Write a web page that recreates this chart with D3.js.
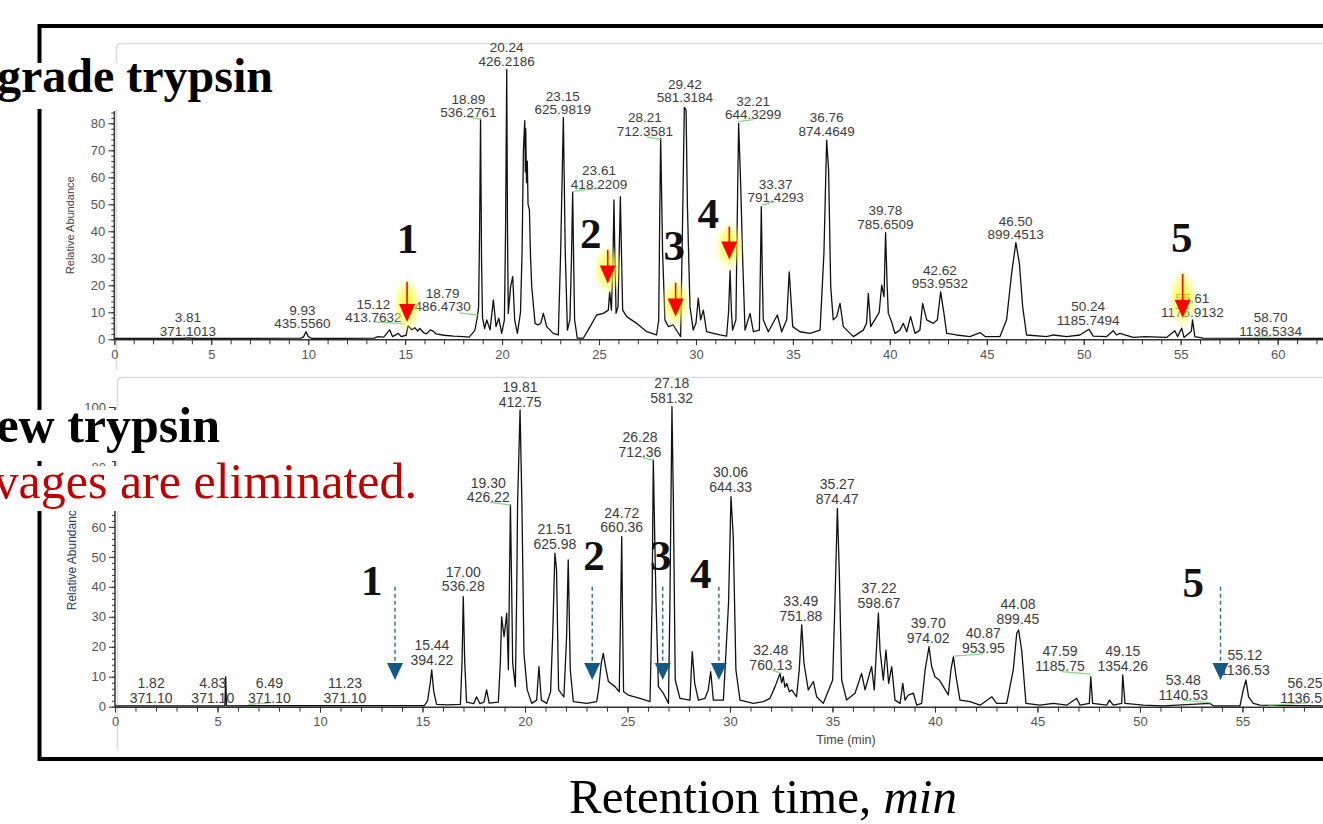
<!DOCTYPE html>
<html lang="en">
<head>
  <meta charset="UTF-8">
  <title>Trypsin digest chromatograms</title>
  <script src="https://d3js.org/d3.v7.min.js"></script>
  <style>
    body { margin: 0; padding: 0; background: #fff; }
    svg { display: block; }
    .tick text { font-family: "Liberation Sans", Arial, sans-serif; font-size: 13px; fill: #555; }
    .tick line, .domain { stroke: #333; }
  </style>
</head>
<body>
<script>
// ---- data: [retention time (min), relative abundance] ----
const topTrace = [[0,0.3],[3.5,0.3],[3.8,0.5],[4.2,0.3],[9.6,0.4],[9.75,0.8],[9.89,2.8],[10.0,1.0],[10.2,0.3],[13.4,0.4],[13.6,1.0],[13.9,0.8],[14.2,3.5],[14.35,1.0],[14.65,2.2],[14.8,1.0],[15.05,1.5],[15.15,5.0],[15.35,3.5],[15.5,4.3],[15.65,3.0],[15.75,4.0],[15.95,2.5],[16.1,2.0],[16.3,3.5],[16.45,3.0],[16.6,2.0],[17.0,1.5],[17.5,1.2],[18.0,1.0],[18.3,0.8],[18.5,2.5],[18.6,3.4],[18.72,8],[18.79,12],[18.84,40],[18.89,81.5],[18.94,30],[18.99,8],[19.1,4],[19.21,7.2],[19.38,3.5],[19.55,14.6],[19.69,4.7],[19.83,7.8],[19.98,2.2],[20.12,7.2],[20.18,40],[20.24,100],[20.28,40],[20.32,9.6],[20.44,19.5],[20.55,23.2],[20.65,7.2],[20.79,2.2],[20.95,10],[21.03,31.8],[21.1,70],[21.17,81],[21.2,62],[21.22,78],[21.26,58],[21.3,66],[21.34,50],[21.41,47.9],[21.47,30],[21.53,19.5],[21.7,5.9],[21.87,5.3],[22.0,6],[22.13,9.6],[22.3,4.7],[22.64,2.2],[22.9,1.6],[23.02,31.8],[23.16,82.2],[23.26,31.8],[23.37,3.4],[23.5,7.2],[23.58,30],[23.64,54.7],[23.69,30],[23.74,7.2],[23.88,0.4],[24.19,0.4],[24.54,4.7],[24.88,9.0],[25.22,9.6],[25.48,10.8],[25.55,17.6],[25.64,10.8],[25.72,30],[25.77,51.6],[25.82,30],[25.88,9.6],[25.98,12.1],[26.05,35],[26.1,52.8],[26.15,35],[26.22,10.8],[26.43,8.4],[26.94,5.9],[27.46,2.8],[27.97,1.6],[28.08,7.2],[28.13,45],[28.18,74.4],[28.28,31.8],[28.4,7.2],[28.58,4.7],[28.83,5.3],[29.04,2.8],[29.21,1.0],[29.31,44.2],[29.4,85.9],[29.49,84.9],[29.56,49.1],[29.69,12.1],[29.86,3.4],[30.0,6],[30.12,15.2],[30.24,7.2],[30.38,10.8],[30.55,2.8],[30.9,2.2],[31.24,1.6],[31.58,1.2],[31.68,10],[31.76,25.4],[31.83,10],[31.89,3.4],[32.06,7.2],[32.13,45],[32.2,80],[32.31,56.5],[32.41,29.4],[32.53,3.4],[32.79,9.6],[32.96,2.8],[33.27,3.4],[33.32,25],[33.37,49.1],[33.42,25],[33.47,7.2],[33.73,2.8],[34.2,9.0],[34.42,2.8],[34.68,7.2],[34.81,25.0],[34.99,4.7],[35.36,2.8],[35.88,2.2],[36.4,3.4],[36.6,31.8],[36.74,73.8],[36.84,62.7],[36.95,19.5],[37.08,7.2],[37.26,8.4],[37.43,13.3],[37.6,4.7],[38.12,1.0],[38.63,3.4],[38.8,6],[38.89,17.0],[39.01,4.7],[39.32,8.4],[39.45,10],[39.58,20.1],[39.7,15.8],[39.78,39.5],[39.86,20],[39.92,9.6],[40.09,6.5],[40.26,2.2],[40.52,3.4],[40.69,5.9],[40.87,2.8],[41.07,8.4],[41.3,2.2],[41.55,3.4],[41.69,13.3],[41.9,7.2],[42.24,5.9],[42.45,7.2],[42.62,17.6],[42.79,9.6],[42.93,2.2],[43.44,1.6],[44.13,1.0],[44.65,2.5],[44.91,1.0],[45.68,1.0],[46.02,7.2],[46.28,24.4],[46.5,35.8],[46.68,28.1],[46.85,12.1],[47.05,1.6],[48.09,1.0],[48.43,1.6],[49.12,1.0],[49.8,1.6],[50.27,3.7],[50.49,1.2],[51.18,1.0],[51.52,3.2],[51.69,1.6],[51.87,2.2],[52.12,1.6],[52.55,0.7],[53.16,1.0],[54.27,0.7],[54.7,3.2],[54.84,1.0],[55.05,4.1],[55.17,0.7],[55.55,3],[55.61,7.2],[55.73,1.0],[56.16,0.4],[62.4,0.3]];

const bottomTrace = [[0,0.3],[5.36,0.3],[5.4,10],[5.44,0.3],[15.1,0.4],[15.25,2],[15.38,8],[15.45,12.3],[15.55,5],[15.69,0.8],[16.2,0.6],[16.85,0.8],[16.93,15],[16.99,36.7],[17.06,15],[17.15,1.5],[17.5,1.0],[17.64,3.3],[17.8,1.0],[18.0,1.5],[18.13,5.6],[18.25,1.2],[18.7,1.5],[18.8,15],[18.86,30.0],[18.98,23.4],[19.11,31.2],[19.19,12.3],[19.24,40],[19.29,67.3],[19.35,40],[19.4,14.5],[19.53,6.7],[19.6,40],[19.64,67.9],[19.76,99],[19.85,67.9],[19.95,17.8],[20.11,5.6],[20.33,1.1],[20.57,2.2],[20.68,13.4],[20.8,2.2],[21.06,1.1],[21.25,5],[21.35,23.4],[21.46,51.2],[21.54,45.6],[21.64,5.6],[21.9,3.3],[22.03,23.4],[22.11,49.0],[22.21,12.3],[22.36,1.7],[23.01,1.1],[23.5,1.7],[23.59,5.6],[23.72,14.5],[23.82,17.8],[23.93,13.4],[24.07,8.4],[24.39,6.7],[24.6,5.0],[24.66,30],[24.72,56.7],[24.76,30],[24.81,5.0],[25.04,3.9],[25.61,2.8],[26.1,1.7],[26.2,34.5],[26.26,82.3],[26.33,56.7],[26.39,35.6],[26.51,6.7],[26.75,4.5],[27.0,1.1],[27.07,34.5],[27.17,100.1],[27.24,67.9],[27.33,8.9],[27.56,2.8],[28.05,2.2],[28.1,10],[28.16,18.4],[28.28,7.8],[28.46,2.2],[28.78,2.8],[28.94,5.6],[29.06,11.7],[29.19,2.2],[29.68,2.2],[29.93,34.5],[30.05,70.1],[30.16,56.7],[30.29,12.3],[30.49,2.2],[31.14,1.1],[31.63,1.7],[31.95,2.8],[32.2,6.7],[32.44,11.1],[32.52,8],[32.6,10.0],[32.68,6.5],[32.77,7.8],[32.9,5],[33.01,5.6],[33.25,3.3],[33.38,12.3],[33.5,27.3],[33.61,14.5],[33.82,5.6],[34.07,8.4],[34.23,3.3],[34.55,1.1],[35.01,8.9],[35.12,34.5],[35.24,66.2],[35.33,45.6],[35.45,8.9],[35.69,2.2],[36.1,4.5],[36.42,11.1],[36.59,5.6],[36.91,13.4],[37.04,5.6],[37.24,31.2],[37.32,18.9],[37.48,8.9],[37.61,18.9],[37.74,7.8],[37.89,13.4],[38.05,2.2],[38.3,1.1],[38.43,7.8],[38.54,2.2],[38.7,3.9],[38.95,4.5],[39.11,0.5],[39.35,1.1],[39.52,12.3],[39.71,20.0],[39.84,13.4],[40.0,10.0],[40.21,8.9],[40.41,6.7],[40.65,3.9],[40.78,12.3],[40.9,16.7],[41.03,10.0],[41.22,2.2],[41.71,1.7],[42.2,0.5],[42.78,3.3],[43.01,1.1],[43.5,1.1],[43.82,12.3],[43.99,24.5],[44.08,25.6],[44.23,18.9],[44.44,1.1],[45.12,0.5],[45.78,1.1],[46.43,0.5],[46.91,2.8],[47.08,0.5],[47.53,1.1],[47.6,10.0],[47.69,1.1],[48.38,0.5],[48.51,2.2],[48.7,0.5],[49.11,1.1],[49.16,10.6],[49.27,1.1],[50.17,0.5],[51.14,0.3],[53.42,1.1],[53.58,0.3],[54.88,0.3],[55.04,5.6],[55.17,8.9],[55.3,3.3],[55.53,1.1],[55.86,0.5],[59,0.3]];

// peak annotations: [RT text, m/z text, label time, label height]
const topPeakLabels = [
  ["3.81","371.1013",3.79,6.3],["9.93","435.5560",9.70,9.1],["15.12","413.7632",13.36,11.2],
  ["18.79","486.4730",16.93,15.3],["18.89","536.2761",18.26,87.3],["20.24","426.2186",20.24,106.3],
  ["23.15","625.9819",23.13,88.4],["23.61","418.2209",25.0,60.7],["28.21","712.3581",27.37,80.3],
  ["29.42","581.3184",29.43,92.7],["32.21","644.3299",32.95,86.5],["33.37","791.4293",34.11,55.8],
  ["36.76","874.4649",36.74,80.3],["39.78","785.6509",39.77,45.9],["42.62","953.9532",42.58,23.9],
  ["46.50","899.4513",46.49,42.1],["50.24","1185.7494",50.23,10.3],["55.61","1175.9132",55.60,13.4],
  ["58.70","1136.5334",59.64,6.3]
];
const bottomPeakLabels = [
  ["1.82","371.10",1.76,6.3],["4.83","371.10",4.77,6.3],["6.49","371.10",7.53,6.3],
  ["11.23","371.10",11.22,6.3],["15.44","394.22",15.46,18.9],["17.00","536.28",16.99,43.4],
  ["19.30","426.22",18.21,73.1],["19.81","412.75",19.76,104.9],["21.51","625.98",21.46,57.5],
  ["24.72","660.36",24.72,63.1],["26.28","712.36",25.61,88.2],["27.18","581.32",27.16,106.2],
  ["30.06","644.33",30.03,76.7],["32.48","760.13",31.99,17.3],["33.49","751.88",33.46,33.6],
  ["35.27","874.47",35.23,72.5],["37.22","598.67",37.27,37.8],["39.70","974.02",39.67,26.2],
  ["40.87","953.95",42.36,22.8],["44.08","899.45",44.05,32.5],["47.59","1185.75",46.10,16.9],
  ["49.15","1354.26",49.16,16.9],["53.48","1140.53",52.11,7.2],["55.12","1136.53",55.12,15.6],
  ["56.25","1136.53",58.05,6.3]
];

// green leader lines from a label to its peak: [t1, v1, t2, v2]
const topLeaders = [[13.36,6.5,15.0,5.7],[17.8,9.8,18.75,9.0],[18.24,82.3,18.9,81.5],[23.59,54.7,24.96,55.9],
  [27.46,75,28.18,74],[32.18,80.6,32.96,81.4],[33.39,49.7,34.07,51],[58.83,1.2,59.64,1.2]];
const bottomLeaders = [[6.5,0.8,7.53,1.3],[18.29,68.2,19.30,67.3],[25.69,83.2,26.26,82.3],[32.03,12.3,32.52,11.1],
  [40.89,16.9,42.36,17.6],[46.18,11.7,47.6,10.9],[52.11,2.2,53.5,1.3],[56.26,0.5,58.13,1.3]];

// missed-cleavage markers: [number, arrow time, arrow top, arrow tip, number time, number baseline]
const topMarks = [["1",15.10,21.2,6.4,15.12,32.0],["2",25.45,33.1,20.7,24.57,33.7],["3",28.95,20.9,8.4,28.88,29.4],
  ["4",31.72,41.7,29.6,30.63,41.3],["5",55.10,24.2,8.0,55.05,32.4]];
const bottomMarks = [["1",13.66,40.0,8.9,12.52,37.3],["2",23.28,40.0,8.9,23.37,45.6],["3",26.72,40.0,8.9,26.62,45.6],
  ["4",29.46,40.0,8.9,28.57,39.5],["5",53.93,40.0,8.9,52.6,36.7]];

const xMajor = [0,5,10,15,20,25,30,35,40,45,50,55,60];
const xMinor = d3.range(0, 63, 1);
const topYMajor = [0,10,20,30,40,50,60,70,80];
const bottomYMajor = [0,10,20,30,40,50,60,70,80,90,100];
const yMinor = d3.range(0, 101, 2);

const W = 1323, H = 824;
const sans = "'Liberation Sans', Arial, sans-serif";
const serif = "'Liberation Serif', 'Times New Roman', serif";

const svg = d3.select("body").append("svg").attr("width", W).attr("height", H);
svg.append("rect").attr("width", W).attr("height", H).attr("fill", "#fff");

const defs = svg.append("defs");
const glow = defs.append("radialGradient").attr("id", "glow");
glow.append("stop").attr("offset", "0%").attr("stop-color", "#ffff00").attr("stop-opacity", 0.9);
glow.append("stop").attr("offset", "55%").attr("stop-color", "#ffff30").attr("stop-opacity", 0.55);
glow.append("stop").attr("offset", "100%").attr("stop-color", "#ffff80").attr("stop-opacity", 0);

// panel frames (light grey, only top/left visible)
svg.append("path").attr("d", "M116.5,370 V48 Q116.5,43.5 121,43.5 H1323")
  .attr("fill", "none").attr("stroke", "#dcdcdc").attr("stroke-width", 1.5);
svg.append("path").attr("d", "M117.5,750 V382 Q117.5,377.5 122,377.5 H1323")
  .attr("fill", "none").attr("stroke", "#dcdcdc").attr("stroke-width", 1.5);

function drawPanel(cfg) {
  const g = svg.append("g");
  const x = d3.scaleLinear().domain(cfg.xDomain).range([cfg.x0, W]);
  const y = d3.scaleLinear().domain([0, 100]).range([cfg.y0, cfg.y100]);

  // x axis: minor then major ticks
  g.append("g").attr("transform", `translate(0,${cfg.y0})`)
    .call(d3.axisBottom(x).tickValues(xMinor.filter(v => v <= cfg.xDomain[1])).tickSize(5).tickFormat(""))
    .call(a => a.select(".domain").remove());
  g.append("g").attr("transform", `translate(0,${cfg.y0})`)
    .call(d3.axisBottom(x).tickValues(xMajor.filter(v => v <= cfg.xDomain[1])).tickSize(6).tickSizeOuter(0).tickPadding(4))
    .call(a => a.select(".domain").attr("stroke-width", 1.5));

  // y axis
  g.append("g").attr("transform", `translate(${cfg.x0},0)`)
    .call(d3.axisLeft(y).tickValues(yMinor.filter(v => v <= cfg.yTop)).tickSize(3).tickFormat(""))
    .call(a => a.select(".domain").remove());
  g.append("g").attr("transform", `translate(${cfg.x0},0)`)
    .call(d3.axisLeft(y).tickValues(cfg.yMajor).tickSize(6).tickPadding(3))
    .call(a => a.select(".domain").remove());
  g.append("line").attr("x1", cfg.x0).attr("x2", cfg.x0)
    .attr("y1", y(0)).attr("y2", y(cfg.yTop)).attr("stroke", "#333").attr("stroke-width", 1.5);

  g.append("text").attr("transform", `translate(${cfg.titleX},${(y(0) + y(cfg.yTop)) / 2}) rotate(-90)`)
    .attr("text-anchor", "middle").style("font-family", sans).style("font-size", cfg.titleSize + "px")
    .attr("fill", cfg.titleColor).text("Relative Abundance");

  // chromatogram trace
  g.append("path").datum(cfg.trace)
    .attr("d", d3.line().x(d => x(d[0])).y(d => y(d[1])))
    .attr("fill", "none").attr("stroke", "#111").attr("stroke-width", 1.3).attr("stroke-linejoin", "round");

  // leader lines
  g.selectAll("line.lead").data(cfg.leaders).join("line").attr("class", "lead")
    .attr("x1", d => x(d[0])).attr("y1", d => y(d[1])).attr("x2", d => x(d[2])).attr("y2", d => y(d[3]))
    .attr("stroke", "#86d886").attr("stroke-width", 1.3);

  // peak labels
  const lab = g.selectAll("text.pk").data(cfg.labels).join("text").attr("class", "pk")
    .attr("x", d => x(d[2])).attr("y", d => y(d[3])).attr("text-anchor", "middle")
    .style("font-family", sans).style("font-size", cfg.labelSize + "px").attr("fill", "#3c3c3c");
  lab.append("tspan").text(d => d[0]);
  lab.append("tspan").attr("x", d => x(d[2])).attr("dy", cfg.labelGap).text(d => d[1]);

  // markers
  const m = g.selectAll("g.mark").data(cfg.marks).join("g").attr("class", "mark");
  if (cfg.red) {
    m.append("ellipse").attr("cx", d => x(d[1])).attr("cy", d => (y(d[2]) + y(d[3])) / 2 + 3)
      .attr("rx", 15).attr("ry", d => (y(d[3]) - y(d[2])) / 2 + 9).attr("fill", "url(#glow)");
    m.append("line").attr("x1", d => x(d[1])).attr("x2", d => x(d[1]))
      .attr("y1", d => y(d[2])).attr("y2", d => y(d[3]) - 16).attr("stroke", "#ff0000").attr("stroke-width", 1.6);
    m.append("path").attr("d", d => `M${x(d[1]) - 8},${y(d[3]) - 18}H${x(d[1]) + 8}L${x(d[1])},${y(d[3])}Z`)
      .attr("fill", "#ff0000");
  } else {
    m.append("line").attr("x1", d => x(d[1])).attr("x2", d => x(d[1]))
      .attr("y1", d => y(d[2])).attr("y2", d => y(d[3]) - 15).attr("stroke", "#2a6a96")
      .attr("stroke-width", 1.4).attr("stroke-dasharray", "4,3");
    m.append("path").attr("d", d => `M${x(d[1]) - 8},${y(d[3]) - 17}H${x(d[1]) + 8}L${x(d[1])},${y(d[3])}Z`)
      .attr("fill", "#155a86");
  }
  m.append("text").attr("x", d => x(d[4])).attr("y", d => y(d[5])).attr("text-anchor", "middle")
    .style("font-family", serif).style("font-weight", "bold").style("font-size", "43px")
    .attr("fill", "#111").text(d => d[0]);
  return { x, y };
}

drawPanel({
  xDomain: [0, 62.34], x0: 114.3, y0: 339.3, y100: 69.3, yTop: 84.5, yMajor: topYMajor,
  trace: topTrace, labels: topPeakLabels, leaders: topLeaders, marks: topMarks, red: true,
  labelSize: 13.5, labelGap: 13.4, titleX: 74, titleSize: 11, titleColor: "#444"
});
drawPanel({
  xDomain: [0, 58.93], x0: 115, y0: 706.7, y100: 407, yTop: 100, yMajor: bottomYMajor,
  trace: bottomTrace, labels: bottomPeakLabels, leaders: bottomLeaders, marks: bottomMarks, red: false,
  labelSize: 14, labelGap: 14.8, titleX: 76, titleSize: 12, titleColor: "#1d3c6e"
});
svg.append("text").attr("x", 846).attr("y", 744).attr("text-anchor", "middle")
  .style("font-family", sans).style("font-size", "12.5px").attr("fill", "#444").text("Time (min)");

// outer black frame
svg.append("path").attr("d", `M${W + 5},26 H39.5 V759 H${W + 5}`)
  .attr("fill", "none").attr("stroke", "#000").attr("stroke-width", 4);

// slide titles on white boxes
svg.append("rect").attr("x", 0).attr("y", 63).attr("width", 278).attr("height", 46).attr("fill", "#fff");
svg.append("rect").attr("x", 0).attr("y", 410).attr("width", 223).attr("height", 51).attr("fill", "#fff");
svg.append("rect").attr("x", 0).attr("y", 466).attr("width", 421).attr("height", 45).attr("fill", "#fff");
svg.append("text").attr("x", 273).attr("y", 92).attr("text-anchor", "end")
  .style("font-family", serif).style("font-weight", "bold").style("font-size", "48px").attr("fill", "#000")
  .text("grade trypsin");
svg.append("text").attr("x", 220).attr("y", 442).attr("text-anchor", "end")
  .style("font-family", serif).style("font-weight", "bold").style("font-size", "50px").attr("fill", "#000")
  .text("ew trypsin");
svg.append("text").attr("x", 417).attr("y", 498).attr("text-anchor", "end")
  .style("font-family", serif).style("font-size", "50px").attr("fill", "#c00000")
  .text("vages are eliminated.");

const rt = svg.append("text").attr("x", 763).attr("y", 813).attr("text-anchor", "middle")
  .style("font-family", serif).style("font-size", "49px").attr("fill", "#000");
rt.append("tspan").text("Retention time, ");
rt.append("tspan").style("font-style", "italic").text("min");
</script>
</body>
</html>
